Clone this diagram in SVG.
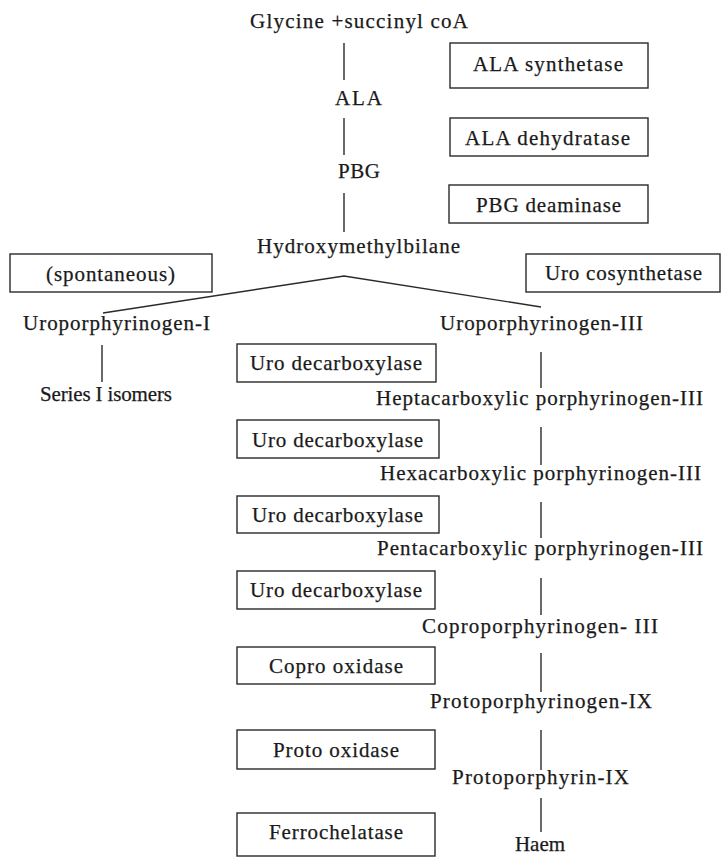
<svg xmlns="http://www.w3.org/2000/svg" width="722" height="858" viewBox="0 0 722 858">
<style>
  text { font-family: "Liberation Serif", "Times New Roman", serif; font-size: 21px; fill: #1a1a1a; stroke: #1a1a1a; stroke-width: 0.25; }
  .box { fill: none; stroke: #2a2a2a; stroke-width: 1.4; }
  .conn { fill: none; stroke: #2a2a2a; stroke-width: 1.4; }
</style>
<rect x="0" y="0" width="722" height="858" fill="#ffffff"/>

<g id="connectors" class="conn">
  <line x1="344" y1="43" x2="344" y2="80"/>
  <line x1="344" y1="118" x2="344" y2="155"/>
  <line x1="344" y1="193" x2="344" y2="232"/>
  <polyline points="103,313 344,276 541,307"/>
  <line x1="102" y1="345" x2="102" y2="382"/>
  <line x1="541" y1="352" x2="541" y2="388"/>
  <line x1="541" y1="427" x2="541" y2="465"/>
  <line x1="541" y1="502" x2="541" y2="538"/>
  <line x1="541" y1="578" x2="541" y2="615"/>
  <line x1="541" y1="653" x2="541" y2="692"/>
  <line x1="541" y1="730" x2="541" y2="770"/>
  <line x1="541" y1="798" x2="541" y2="832"/>
</g>

<g id="glycine"><text x="250" y="28" textLength="218" lengthAdjust="spacing">Glycine +succinyl coA</text></g>
<g id="ala"><text x="335" y="105" textLength="47" lengthAdjust="spacing">ALA</text></g>
<g id="pbg"><text x="338" y="178" textLength="42" lengthAdjust="spacing">PBG</text></g>
<g id="hmb"><text x="257" y="253" textLength="203" lengthAdjust="spacing">Hydroxymethylbilane</text></g>
<g id="uro1"><text x="23" y="330" textLength="187" lengthAdjust="spacing">Uroporphyrinogen-I</text></g>
<g id="uro3"><text x="440" y="330" textLength="203" lengthAdjust="spacing">Uroporphyrinogen-III</text></g>
<g id="series1"><text x="40" y="401" textLength="132" lengthAdjust="spacing">Series I isomers</text></g>
<g id="hepta"><text x="376" y="405" textLength="327" lengthAdjust="spacing">Heptacarboxylic porphyrinogen-III</text></g>
<g id="hexa"><text x="380" y="480" textLength="321" lengthAdjust="spacing">Hexacarboxylic porphyrinogen-III</text></g>
<g id="penta"><text x="377" y="555" textLength="326" lengthAdjust="spacing">Pentacarboxylic porphyrinogen-III</text></g>
<g id="copro"><text x="422" y="633" textLength="236" lengthAdjust="spacing">Coproporphyrinogen- III</text></g>
<g id="protogen"><text x="430" y="708" textLength="222" lengthAdjust="spacing">Protoporphyrinogen-IX</text></g>
<g id="protoporph"><text x="452" y="784" textLength="177" lengthAdjust="spacing">Protoporphyrin-IX</text></g>
<g id="haem"><text x="515" y="851" textLength="50" lengthAdjust="spacing">Haem</text></g>

<g id="ala-synthetase"><rect class="box" x="450" y="43" width="198" height="45"/><text x="473" y="71" textLength="150" lengthAdjust="spacing">ALA synthetase</text></g>
<g id="ala-dehydratase"><rect class="box" x="450" y="118" width="198" height="38"/><text x="465" y="145" textLength="165" lengthAdjust="spacing">ALA dehydratase</text></g>
<g id="pbg-deaminase"><rect class="box" x="449" y="185" width="199" height="38"/><text x="476" y="212" textLength="145" lengthAdjust="spacing">PBG deaminase</text></g>
<g id="spontaneous"><rect class="box" x="10" y="254" width="202" height="38"/><text x="46" y="281" textLength="129" lengthAdjust="spacing">(spontaneous)</text></g>
<g id="uro-cosynthetase"><rect class="box" x="526" y="254" width="194" height="38"/><text x="545" y="280" textLength="157" lengthAdjust="spacing">Uro cosynthetase</text></g>
<g id="uro-decarb-1"><rect class="box" x="237" y="344" width="199" height="38"/><text x="250" y="370" textLength="172" lengthAdjust="spacing">Uro decarboxylase</text></g>
<g id="uro-decarb-2"><rect class="box" x="237" y="420" width="202" height="38"/><text x="252" y="447" textLength="171" lengthAdjust="spacing">Uro decarboxylase</text></g>
<g id="uro-decarb-3"><rect class="box" x="237" y="496" width="202" height="37"/><text x="252" y="522" textLength="171" lengthAdjust="spacing">Uro decarboxylase</text></g>
<g id="uro-decarb-4"><rect class="box" x="237" y="571" width="198" height="38"/><text x="250" y="597" textLength="172" lengthAdjust="spacing">Uro decarboxylase</text></g>
<g id="copro-oxidase"><rect class="box" x="237" y="647" width="198" height="37"/><text x="269" y="673" textLength="134" lengthAdjust="spacing">Copro oxidase</text></g>
<g id="proto-oxidase"><rect class="box" x="237" y="730" width="198" height="39"/><text x="273" y="757" textLength="126" lengthAdjust="spacing">Proto oxidase</text></g>
<g id="ferrochelatase"><rect class="box" x="237" y="813" width="198" height="43"/><text x="269" y="839" textLength="134" lengthAdjust="spacing">Ferrochelatase</text></g>
</svg>
